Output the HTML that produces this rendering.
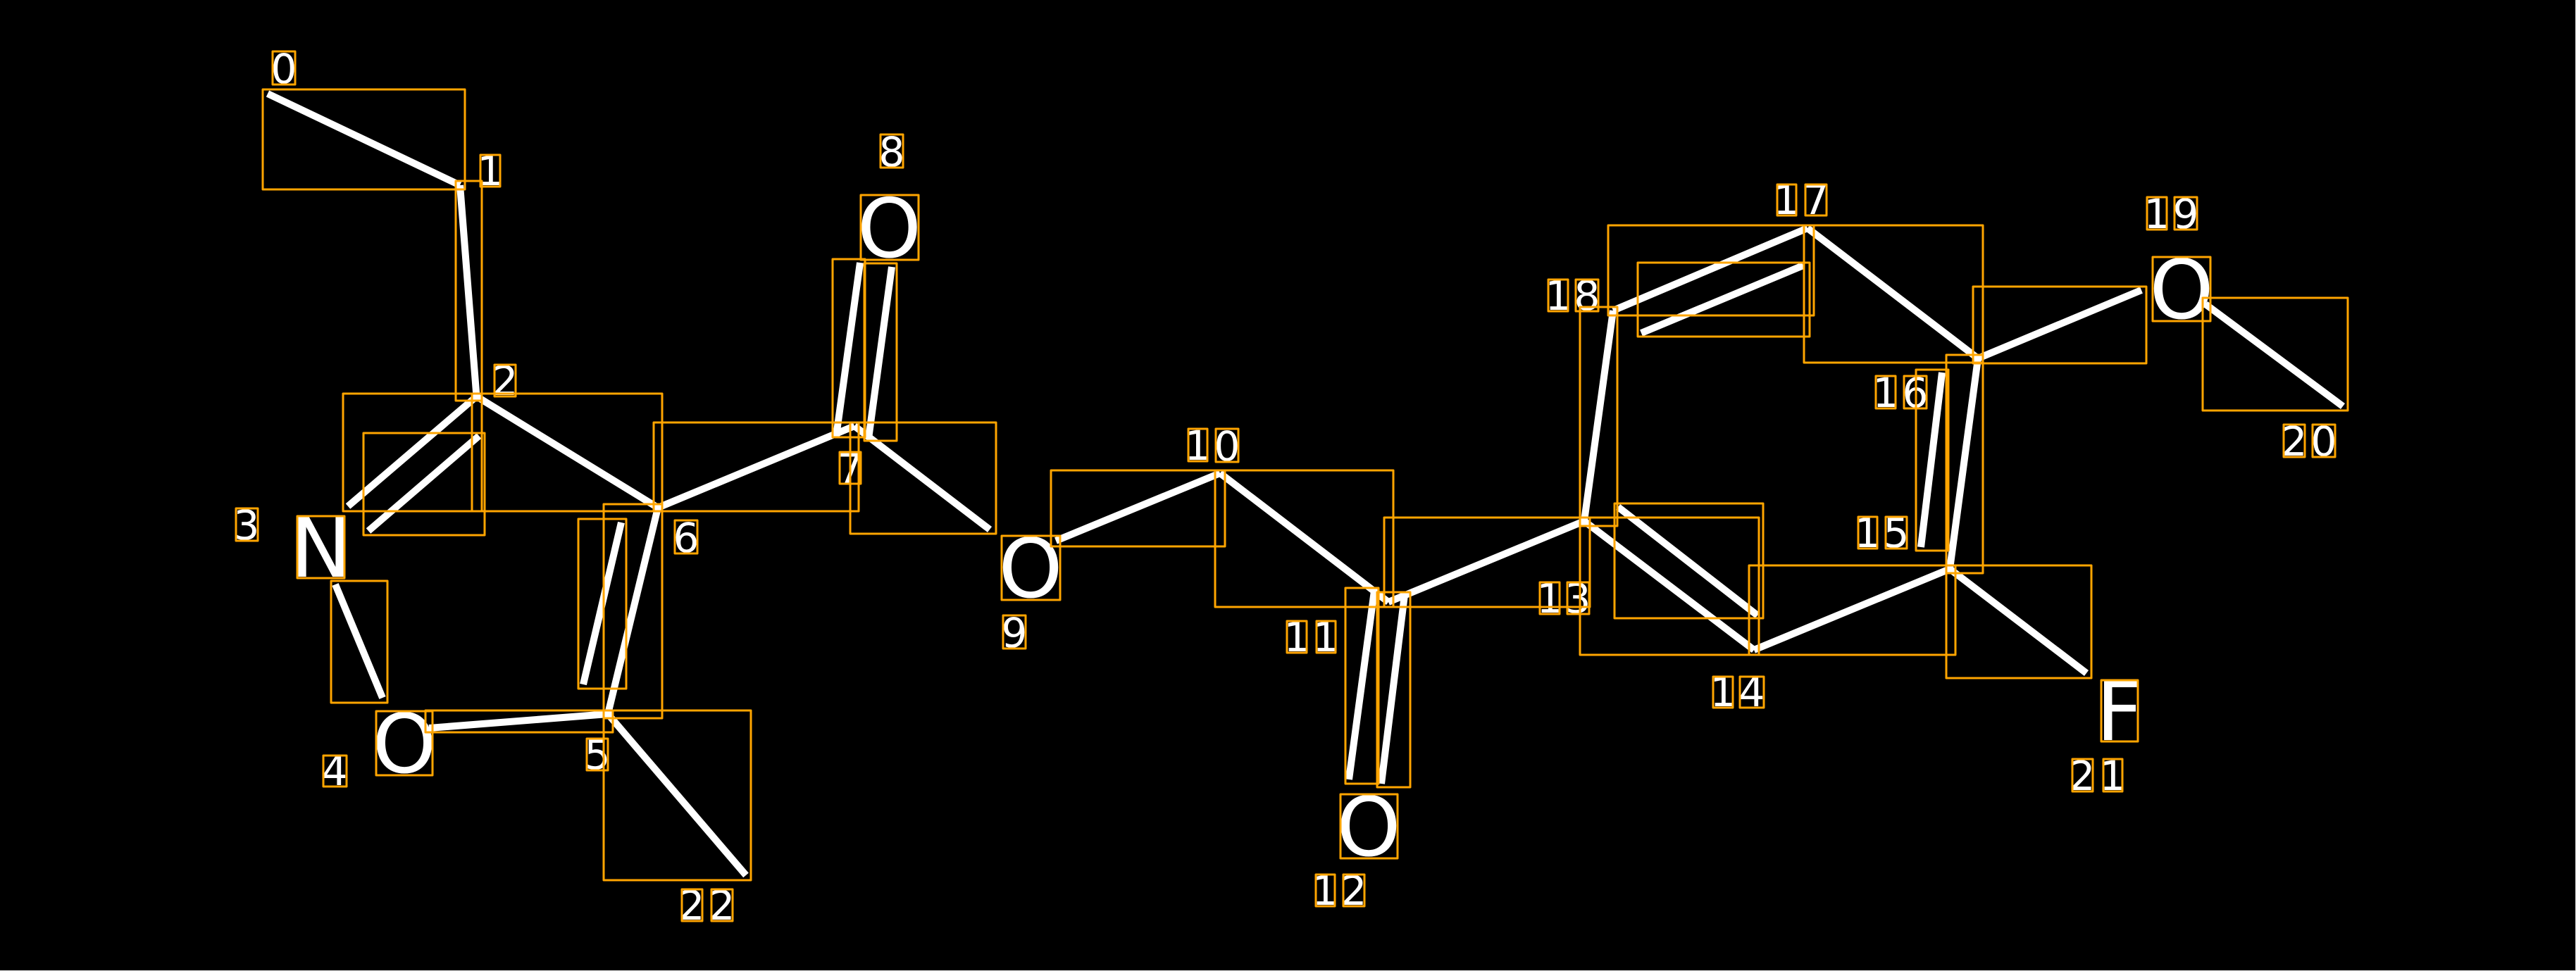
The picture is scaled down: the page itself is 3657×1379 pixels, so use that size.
<!DOCTYPE html>
<html><head><meta charset="utf-8"><style>
html,body{margin:0;padding:0;background:#000;width:3657px;height:1379px;overflow:hidden}
svg{display:block}
.b line{stroke:#fff;stroke-width:10;stroke-linecap:butt}
.t text{fill:#fff;font-family:"DejaVu Sans",sans-serif;text-anchor:middle}
.d text{font-size:58px}
.a text{font-size:116px}
.r rect{fill:none;stroke:#FFA500;stroke-width:3;stroke-linejoin:round}
</style></head><body>
<svg xmlns="http://www.w3.org/2000/svg" width="3657" height="1379" viewBox="0 0 3657 1379">
<rect width="3657" height="1379" fill="#000"/>
<g class="b">
<line x1="380" y1="133" x2="653" y2="263"/>
<line x1="653" y1="263" x2="676.5" y2="563"/>
<line x1="676.5" y1="563" x2="494" y2="719"/>
<line x1="680" y1="619" x2="523" y2="754"/>
<line x1="676.5" y1="563" x2="934" y2="721"/>
<line x1="476" y1="830" x2="543" y2="991"/>
<line x1="609" y1="1034" x2="863" y2="1014"/>
<line x1="863" y1="1014" x2="934" y2="721"/>
<line x1="882" y1="742" x2="828" y2="972"/>
<line x1="863" y1="1014" x2="1059" y2="1243"/>
<line x1="934" y1="721" x2="1213" y2="605"/>
<line x1="1221" y1="373" x2="1187" y2="620"/>
<line x1="1266" y1="379" x2="1233" y2="623"/>
<line x1="1213" y1="605" x2="1405" y2="752"/>
<line x1="1499" y1="768" x2="1732" y2="672"/>
<line x1="1732" y1="672" x2="1971" y2="855"/>
<line x1="1951" y1="839" x2="1915" y2="1107"/>
<line x1="1994" y1="845" x2="1961" y2="1113"/>
<line x1="1971" y1="855" x2="2249" y2="740"/>
<line x1="2249" y1="740" x2="2490" y2="923"/>
<line x1="2297" y1="720" x2="2495" y2="874"/>
<line x1="2490" y1="923" x2="2768" y2="808"/>
<line x1="2768" y1="808" x2="2808" y2="509"/>
<line x1="2757" y1="529" x2="2727" y2="777"/>
<line x1="2808" y1="509" x2="2566" y2="324"/>
<line x1="2566" y1="324" x2="2290" y2="441"/>
<line x1="2560" y1="377" x2="2330" y2="473"/>
<line x1="2290" y1="441" x2="2249" y2="740"/>
<line x1="2808" y1="509" x2="3040" y2="412"/>
<line x1="3131" y1="432" x2="3326" y2="577"/>
<line x1="2768" y1="808" x2="2962" y2="956"/>
</g>
<g class="t d">
<text x="403" y="118">0</text>
<text x="696" y="263">1</text>
<text x="717" y="561">2</text>
<text x="350" y="766">3</text>
<text x="475" y="1115">4</text>
<text x="848" y="1092">5</text>
<text x="974" y="784">6</text>
<text x="1207" y="686">7</text>
<text x="1266" y="236">8</text>
<text x="1440" y="919">9</text>
<text x="1700" y="653">1</text><text x="1742" y="654">0</text>
<text x="1841" y="925">1</text><text x="1882" y="925">1</text>
<text x="1881" y="1285">1</text><text x="1922" y="1285">2</text>
<text x="2200" y="870">1</text><text x="2240" y="870">3</text>
<text x="2446" y="1003">1</text><text x="2487" y="1003">4</text>
<text x="2651" y="777">1</text><text x="2692" y="777">5</text>
<text x="2677" y="578">1</text><text x="2719" y="578">6</text>
<text x="2536" y="304">1</text><text x="2578" y="304">7</text>
<text x="2212" y="440">1</text><text x="2253" y="440">8</text>
<text x="3062" y="324">1</text><text x="3103" y="324">9</text>
<text x="3257" y="647">2</text><text x="3299" y="647">0</text>
<text x="2956" y="1122">2</text><text x="2999" y="1122">1</text>
<text x="982" y="1306">2</text><text x="1025" y="1306">2</text>
</g>
<g class="t a">
<text x="455.5" y="819">N</text>
<text x="574" y="1097">O</text>
<text x="1262.5" y="365">O</text>
<text x="1463" y="848">O</text>
<text x="1943" y="1215">O</text>
<text x="3097" y="452">O</text>
<text x="3009" y="1051">F</text>
</g>
<g class="r">
<rect x="373" y="127" width="287" height="142"/>
<rect x="647" y="257" width="37" height="312"/>
<rect x="487" y="559" width="197" height="167"/>
<rect x="516" y="615" width="172" height="145"/>
<rect x="670" y="559" width="270" height="167"/>
<rect x="470" y="825" width="80" height="173"/>
<rect x="604" y="1009" width="266" height="31"/>
<rect x="857" y="716" width="83" height="304"/>
<rect x="821" y="737" width="68" height="241"/>
<rect x="857" y="1009" width="209" height="241"/>
<rect x="928" y="600" width="291" height="126"/>
<rect x="1182" y="368" width="46" height="253"/>
<rect x="1227" y="374" width="46" height="252"/>
<rect x="1207" y="600" width="207" height="158"/>
<rect x="1492" y="668" width="247" height="108"/>
<rect x="1725" y="668" width="253" height="194"/>
<rect x="1910" y="835" width="47" height="278"/>
<rect x="1955" y="841" width="47" height="277"/>
<rect x="1965" y="735" width="292" height="127"/>
<rect x="2243" y="735" width="254" height="195"/>
<rect x="2292" y="715" width="211" height="163"/>
<rect x="2483" y="803" width="293" height="127"/>
<rect x="2763" y="504" width="52" height="310"/>
<rect x="2720" y="525" width="46" height="257"/>
<rect x="2561" y="320" width="254" height="195"/>
<rect x="2283" y="320" width="292" height="128"/>
<rect x="2325" y="373" width="244" height="105"/>
<rect x="2243" y="436" width="53" height="311"/>
<rect x="2801" y="407" width="246" height="109"/>
<rect x="3127" y="423" width="206" height="160"/>
<rect x="2763" y="803" width="206" height="160"/>
<rect x="387" y="73" width="32" height="47"/>
<rect x="682" y="220" width="28" height="45"/>
<rect x="702" y="518" width="30" height="45"/>
<rect x="335" y="722" width="31" height="46"/>
<rect x="459" y="1073" width="33" height="44"/>
<rect x="833" y="1049" width="30" height="45"/>
<rect x="958" y="739" width="32" height="47"/>
<rect x="1192" y="642" width="30" height="45"/>
<rect x="1250" y="191" width="32" height="47"/>
<rect x="1424" y="874" width="32" height="47"/>
<rect x="1687" y="609" width="27" height="46"/><rect x="1726" y="609" width="32" height="47"/>
<rect x="1827" y="882" width="28" height="45"/><rect x="1869" y="882" width="27" height="45"/>
<rect x="1868" y="1242" width="27" height="45"/><rect x="1907" y="1242" width="30" height="45"/>
<rect x="2186" y="827" width="28" height="45"/><rect x="2225" y="827" width="31" height="45"/>
<rect x="2432" y="961" width="28" height="44"/><rect x="2470" y="961" width="34" height="44"/>
<rect x="2638" y="734" width="27" height="45"/><rect x="2677" y="734" width="30" height="45"/>
<rect x="2663" y="534" width="28" height="46"/><rect x="2703" y="534" width="32" height="46"/>
<rect x="2523" y="262" width="27" height="44"/><rect x="2563" y="262" width="30" height="44"/>
<rect x="2198" y="397" width="28" height="45"/><rect x="2237" y="397" width="32" height="45"/>
<rect x="3048" y="280" width="28" height="46"/><rect x="3087" y="280" width="32" height="46"/>
<rect x="3242" y="603" width="30" height="46"/><rect x="3283" y="603" width="32" height="46"/>
<rect x="2942" y="1078" width="29" height="46"/><rect x="2986" y="1078" width="27" height="46"/>
<rect x="968" y="1263" width="29" height="45"/><rect x="1010" y="1263" width="30" height="45"/>
<rect x="422" y="733" width="67" height="88"/>
<rect x="534" y="1010" width="80" height="91"/>
<rect x="1222" y="277" width="82" height="92"/>
<rect x="1422" y="761" width="83" height="91"/>
<rect x="1903" y="1128" width="81" height="91"/>
<rect x="3056" y="365" width="82" height="91"/>
<rect x="2983" y="966" width="52" height="87"/>
</g>
<line x1="3656.5" y1="0" x2="3656.5" y2="1379" stroke="#ddd" stroke-width="1"/>
<line x1="0" y1="1378.5" x2="3657" y2="1378.5" stroke="#ddd" stroke-width="1"/>
</svg>
</body></html>
